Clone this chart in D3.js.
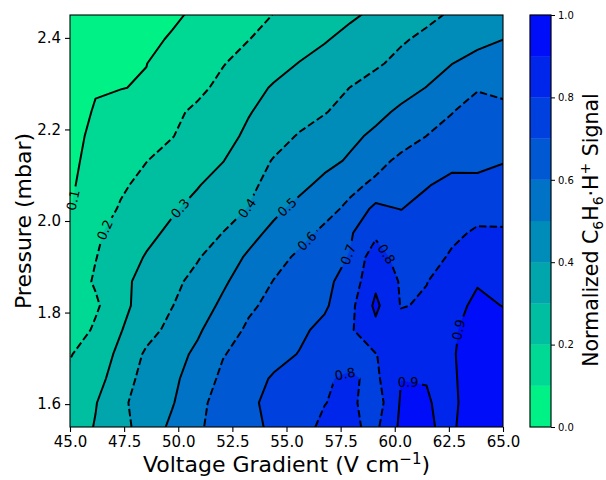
<!DOCTYPE html>
<html>
<head>
<meta charset="utf-8">
<script src="https://cdn.jsdelivr.net/npm/d3@7"></script>
<style>
  html, body { margin: 0; padding: 0; background: #ffffff; }
  svg { display: block; font-family: "DejaVu Sans", sans-serif; }
</style>
</head>
<body>
<svg id="chart" width="606" height="480"></svg>
<script>
// Measurement grid: voltage gradient (V/cm) columns and pressure (mbar) rows
const voltage = [45.00, 46.18, 47.35, 48.53, 49.71, 50.88, 52.06, 53.24, 54.41,
                 55.59, 56.76, 57.94, 59.12, 60.29, 61.47, 62.65, 63.82, 65.00];
const pressure = [1.550, 1.603, 1.656, 1.709, 1.762, 1.815, 1.868, 1.921, 1.974,
                  2.026, 2.079, 2.132, 2.185, 2.238, 2.291, 2.344, 2.397, 2.450];

// Normalized C6H6·H+ signal, one row per pressure (ascending), one column per voltage
const signal = [
  [0.243, 0.306, 0.370, 0.442, 0.519, 0.588, 0.633, 0.673, 0.718, 0.774, 0.815, 0.815, 0.780, 0.920, 0.905, 0.890, 0.950, 1.000],
  [0.220, 0.295, 0.383, 0.441, 0.492, 0.576, 0.635, 0.683, 0.724, 0.761, 0.798, 0.820, 0.750, 0.910, 0.905, 0.880, 0.960, 0.970],
  [0.220, 0.258, 0.360, 0.430, 0.478, 0.548, 0.618, 0.662, 0.710, 0.745, 0.792, 0.812, 0.780, 0.899, 0.898, 0.890, 0.940, 0.960],
  [0.194, 0.252, 0.321, 0.416, 0.464, 0.518, 0.595, 0.634, 0.669, 0.704, 0.735, 0.770, 0.797, 0.850, 0.870, 0.895, 0.930, 0.950],
  [0.135, 0.216, 0.296, 0.364, 0.428, 0.486, 0.556, 0.614, 0.647, 0.681, 0.726, 0.788, 0.875, 0.840, 0.860, 0.890, 0.930, 0.940],
  [0.150, 0.185, 0.273, 0.342, 0.397, 0.456, 0.517, 0.585, 0.624, 0.655, 0.686, 0.772, 0.920, 0.795, 0.810, 0.870, 0.920, 0.898],
  [0.145, 0.211, 0.277, 0.330, 0.376, 0.428, 0.486, 0.546, 0.603, 0.639, 0.675, 0.743, 0.880, 0.790, 0.798, 0.835, 0.893, 0.850],
  [0.141, 0.197, 0.253, 0.307, 0.349, 0.392, 0.452, 0.513, 0.567, 0.616, 0.661, 0.705, 0.864, 0.742, 0.770, 0.810, 0.830, 0.825],
  [0.142, 0.187, 0.231, 0.276, 0.319, 0.359, 0.401, 0.467, 0.524, 0.569, 0.620, 0.690, 0.775, 0.760, 0.770, 0.785, 0.810, 0.810],
  [0.097, 0.155, 0.209, 0.248, 0.289, 0.327, 0.364, 0.403, 0.478, 0.529, 0.569, 0.622, 0.727, 0.698, 0.735, 0.760, 0.775, 0.770],
  [0.089, 0.138, 0.187, 0.225, 0.260, 0.294, 0.337, 0.381, 0.428, 0.475, 0.525, 0.576, 0.619, 0.656, 0.693, 0.730, 0.724, 0.720],
  [0.085, 0.123, 0.160, 0.198, 0.231, 0.264, 0.297, 0.352, 0.406, 0.439, 0.473, 0.511, 0.569, 0.620, 0.645, 0.670, 0.675, 0.697],
  [0.084, 0.112, 0.140, 0.169, 0.197, 0.235, 0.273, 0.315, 0.363, 0.408, 0.444, 0.480, 0.518, 0.559, 0.601, 0.640, 0.675, 0.670],
  [0.075, 0.105, 0.128, 0.156, 0.183, 0.215, 0.255, 0.295, 0.329, 0.362, 0.395, 0.435, 0.476, 0.516, 0.557, 0.597, 0.655, 0.640],
  [0.050, 0.096, 0.098, 0.106, 0.147, 0.181, 0.221, 0.267, 0.309, 0.339, 0.370, 0.401, 0.435, 0.468, 0.502, 0.545, 0.590, 0.565],
  [0.030, 0.053, 0.076, 0.099, 0.131, 0.163, 0.196, 0.231, 0.267, 0.303, 0.331, 0.360, 0.388, 0.423, 0.461, 0.499, 0.535, 0.570],
  [0.015, 0.038, 0.060, 0.083, 0.107, 0.137, 0.167, 0.198, 0.230, 0.262, 0.293, 0.326, 0.358, 0.390, 0.419, 0.446, 0.473, 0.499],
  [0.000, 0.022, 0.044, 0.066, 0.088, 0.113, 0.143, 0.172, 0.202, 0.230, 0.259, 0.287, 0.317, 0.348, 0.380, 0.411, 0.443, 0.475]
];

// Contour levels, axis ticks and colorbar ticks
const levels = [0.0, 0.1, 0.2, 0.3, 0.4, 0.5, 0.6, 0.7, 0.8, 0.9, 1.0];
const xTicks = [45.0, 47.5, 50.0, 52.5, 55.0, 57.5, 60.0, 62.5, 65.0];
const yTicks = [1.6, 1.8, 2.0, 2.2, 2.4];
const cbarTicks = [0.0, 0.2, 0.4, 0.6, 0.8, 1.0];

// Approximate spots (voltage, pressure) where each contour line carries its inline label
const labelSpots = [
  { level: 0.1, v: 45.09, p: 2.046 },
  { level: 0.2, v: 46.62, p: 1.980 },
  { level: 0.3, v: 50.08, p: 2.028 },
  { level: 0.4, v: 53.18, p: 2.028 },
  { level: 0.5, v: 55.02, p: 2.031 },
  { level: 0.6, v: 55.95, p: 1.956 },
  { level: 0.7, v: 57.89, p: 1.926 },
  { level: 0.8, v: 59.73, p: 1.932 },
  { level: 0.8, v: 57.56, p: 1.681 },
  { level: 0.9, v: 60.70, p: 1.670 },
  { level: 0.9, v: 62.97, p: 1.762 }
];

const svg = d3.select("#chart");
const plot = { left: 70, right: 503, top: 15, bottom: 427 };
const cbar = { left: 530, right: 551 };

const x = d3.scaleLinear().domain([45, 65]).range([plot.left, plot.right]);
const y = d3.scaleLinear().domain([1.55, 2.45]).range([plot.bottom, plot.top]);

// winter_r colour map: spring green at 0, pure blue at 1
const cmap = d3.scaleLinear().domain([0, 1]).range(["rgb(0,255,128)", "rgb(0,0,255)"]);
const bandColor = i => cmap((levels[i] + levels[i + 1]) / 2);

const nx = voltage.length, ny = pressure.length;
const flat = signal.flat();

// d3.contours places sample k at grid coordinate k + 0.5
function gridToData(arr, g) {
  const i = g - 0.5;
  const i0 = Math.max(0, Math.min(arr.length - 2, Math.floor(i)));
  return arr[i0] + (i - i0) * (arr[i0 + 1] - arr[i0]);
}
const toPx = (gx, gy) => [x(gridToData(voltage, gx)), y(gridToData(pressure, gy))];
const projection = d3.geoTransform({
  point(gx, gy) { const p = toPx(gx, gy); this.stream.point(p[0], p[1]); }
});
const path = d3.geoPath(projection);

const inner = levels.slice(1, -1);
const contours = d3.contours().size([nx, ny]).smooth(true).thresholds(inner)(flat);

const defs = svg.append("defs");
defs.append("clipPath").attr("id", "plotClip")
  .append("rect")
  .attr("x", plot.left).attr("y", plot.top)
  .attr("width", plot.right - plot.left).attr("height", plot.bottom - plot.top);

// Filled bands
const fills = svg.append("g").attr("clip-path", "url(#plotClip)");
fills.append("rect")
  .attr("x", plot.left).attr("y", plot.top)
  .attr("width", plot.right - plot.left).attr("height", plot.bottom - plot.top)
  .attr("fill", bandColor(0));
fills.selectAll("path.band")
  .data(contours)
  .join("path")
  .attr("class", "band")
  .attr("d", path)
  .attr("fill", (d, i) => bandColor(i + 1))
  .attr("stroke", (d, i) => bandColor(i + 1))
  .attr("stroke-width", 0.5);

// Polylines of each contour ring in pixel space, for label placement
function ringsPx(c) {
  const out = [];
  c.coordinates.forEach(poly => poly.forEach(ring => {
    out.push(ring.map(pt => toPx(pt[0], pt[1])));
  }));
  return out;
}
const inside = p => p[0] >= plot.left && p[0] <= plot.right && p[1] >= plot.top && p[1] <= plot.bottom;

// Point at arc length s along a ring, walking only while inside the plot
function walk(ring, cum, k0, s0, dist, dir) {
  let k = k0, s = s0, remaining = dist;
  let cur = null;
  const n = ring.length - 1;
  const pointAt = (kk, ss) => {
    const a = ring[kk], b = ring[kk + 1];
    const L = cum[kk + 1] - cum[kk];
    const t = L > 0 ? (ss - cum[kk]) / L : 0;
    return [a[0] + t * (b[0] - a[0]), a[1] + t * (b[1] - a[1])];
  };
  cur = pointAt(k, s);
  for (let guard = 0; guard < ring.length * 2 && remaining > 0; guard++) {
    const end = dir > 0 ? cum[k + 1] : cum[k];
    const avail = Math.abs(end - s);
    if (avail >= remaining) {
      s += dir * remaining;
      const p = pointAt(k, s);
      if (!inside(p)) break;
      cur = p;
      remaining = 0;
      break;
    }
    remaining -= avail;
    s = end;
    const p = pointAt(k, s);
    if (!inside(p)) break;
    cur = p;
    k = dir > 0 ? (k + 1) % n : (k - 1 + n) % n;
    s = dir > 0 ? cum[k] : cum[k + 1];
  }
  return cur;
}

const labelFont = 13;
const halfWidth = 10.5;
const placed = labelSpots.map(s => {
  const ci = inner.findIndex(t => Math.abs(t - s.level) < 1e-9);
  const target = [x(s.v), y(s.p)];
  let best = null;
  ringsPx(contours[ci]).forEach(ring => {
    const cum = [0];
    for (let k = 1; k < ring.length; k++) {
      cum.push(cum[k - 1] + Math.hypot(ring[k][0] - ring[k - 1][0], ring[k][1] - ring[k - 1][1]));
    }
    for (let k = 0; k < ring.length - 1; k++) {
      const a = ring[k], b = ring[k + 1];
      if (!inside(a) && !inside(b)) continue;
      const dx = b[0] - a[0], dy = b[1] - a[1];
      const len2 = dx * dx + dy * dy;
      if (len2 === 0) continue;
      let t = ((target[0] - a[0]) * dx + (target[1] - a[1]) * dy) / len2;
      t = Math.max(0, Math.min(1, t));
      const px = a[0] + t * dx, py = a[1] + t * dy;
      const d = Math.hypot(px - target[0], py - target[1]);
      if (!best || d < best.d) best = { d, px, py, ring, cum, k, s: cum[k] + t * Math.sqrt(len2) };
    }
  });
  // Orientation follows the chord across the label's extent along the line
  const p0 = walk(best.ring, best.cum, best.k, best.s, halfWidth, -1);
  const p1 = walk(best.ring, best.cum, best.k, best.s, halfWidth, 1);
  let ang = Math.atan2(p1[1] - p0[1], p1[0] - p0[0]) * 180 / Math.PI;
  if (ang > 90) ang -= 180;
  if (ang <= -90) ang += 180;
  return { level: s.level, px: best.px, py: best.py, ang };
});

// Gaps cut into the contour lines under each label
const mask = defs.append("mask").attr("id", "labelGaps")
  .attr("maskUnits", "userSpaceOnUse")
  .attr("x", 0).attr("y", 0).attr("width", 606).attr("height", 480);
mask.append("rect").attr("x", 0).attr("y", 0).attr("width", 606).attr("height", 480).attr("fill", "white");
mask.selectAll("rect.gap")
  .data(placed)
  .join("rect")
  .attr("class", "gap")
  .attr("x", -14).attr("y", -8).attr("width", 28).attr("height", 16)
  .attr("fill", "black")
  .attr("transform", d => `translate(${d.px},${d.py}) rotate(${d.ang})`);

// Contour lines: odd tenths solid, even tenths dashed
const lines = svg.append("g").attr("clip-path", "url(#plotClip)")
  .append("g").attr("mask", "url(#labelGaps)");
lines.selectAll("path.line")
  .data(contours)
  .join("path")
  .attr("class", "line")
  .attr("d", path)
  .attr("fill", "none")
  .attr("stroke", "#000")
  .attr("stroke-width", 2)
  .attr("stroke-linejoin", "round")
  .attr("stroke-dasharray", (d, i) => (i % 2 === 1 ? "7.4,3.2" : null));

svg.append("g").selectAll("text")
  .data(placed)
  .join("text")
  .attr("transform", d => `translate(${d.px},${d.py}) rotate(${d.ang})`)
  .attr("text-anchor", "middle")
  .attr("dy", "0.36em")
  .attr("font-size", labelFont)
  .attr("fill", "#000")
  .text(d => d3.format(".1f")(d.level));

// Axes
const xAxis = svg.append("g")
  .attr("transform", `translate(0,${plot.bottom})`)
  .call(d3.axisBottom(x).tickValues(xTicks).tickFormat(d3.format(".1f")).tickSize(5).tickPadding(4));
const yAxis = svg.append("g")
  .attr("transform", `translate(${plot.left},0)`)
  .call(d3.axisLeft(y).tickValues(yTicks).tickFormat(d3.format(".1f")).tickSize(5).tickPadding(4));
[xAxis, yAxis].forEach(g => {
  g.select(".domain").remove();
  g.selectAll("line").attr("stroke", "#000").attr("stroke-width", 1.1);
  g.selectAll("text").attr("font-size", 15).attr("fill", "#000").attr("font-family", "DejaVu Sans");
});

svg.append("rect")
  .attr("x", plot.left).attr("y", plot.top)
  .attr("width", plot.right - plot.left).attr("height", plot.bottom - plot.top)
  .attr("fill", "none").attr("stroke", "#000").attr("stroke-width", 1.1);

// Axis titles
const xTitle = svg.append("text")
  .attr("x", (plot.left + plot.right) / 2).attr("y", 472)
  .attr("text-anchor", "middle").attr("font-size", 22).attr("fill", "#000");
xTitle.append("tspan").text("Voltage Gradient (V cm");
xTitle.append("tspan").attr("dy", -8).attr("font-size", 15).text("\u22121");
xTitle.append("tspan").attr("dy", 8).text(")");

svg.append("text")
  .attr("transform", `translate(31,${(plot.top + plot.bottom) / 2}) rotate(-90)`)
  .attr("text-anchor", "middle").attr("font-size", 22).attr("fill", "#000")
  .text("Pressure (mbar)");

// Colorbar
const cy = d3.scaleLinear().domain([0, 1]).range([plot.bottom, plot.top]);
svg.append("g").selectAll("rect")
  .data(d3.range(levels.length - 1))
  .join("rect")
  .attr("x", cbar.left).attr("width", cbar.right - cbar.left)
  .attr("y", i => cy(levels[i + 1]))
  .attr("height", i => cy(levels[i]) - cy(levels[i + 1]))
  .attr("fill", i => bandColor(i))
  .attr("stroke", i => bandColor(i)).attr("stroke-width", 0.3);
svg.append("rect")
  .attr("x", cbar.left).attr("y", plot.top)
  .attr("width", cbar.right - cbar.left).attr("height", plot.bottom - plot.top)
  .attr("fill", "none").attr("stroke", "#000").attr("stroke-width", 1.1);
const cAxis = svg.append("g")
  .attr("transform", `translate(${cbar.right},0)`)
  .call(d3.axisRight(cy).tickValues(cbarTicks).tickFormat(d3.format(".1f")).tickSize(4).tickPadding(3));
cAxis.select(".domain").remove();
cAxis.selectAll("line").attr("stroke", "#000").attr("stroke-width", 1);
cAxis.selectAll("text").attr("font-size", 10).attr("fill", "#000").attr("font-family", "DejaVu Sans");

const cTitle = svg.append("text")
  .attr("transform", `translate(598,230) rotate(-90)`)
  .attr("text-anchor", "middle").attr("font-size", 20.5).attr("fill", "#000");
cTitle.append("tspan").text("Normalized C");
cTitle.append("tspan").attr("dy", 5).attr("font-size", 14).text("6");
cTitle.append("tspan").attr("dy", -5).text("H");
cTitle.append("tspan").attr("dy", 5).attr("font-size", 14).text("6");
cTitle.append("tspan").attr("dy", -5).text("\u00B7H");
cTitle.append("tspan").attr("dy", -8).attr("font-size", 14).text("+");
cTitle.append("tspan").attr("dy", 8).text(" Signal");
</script>
</body>
</html>
